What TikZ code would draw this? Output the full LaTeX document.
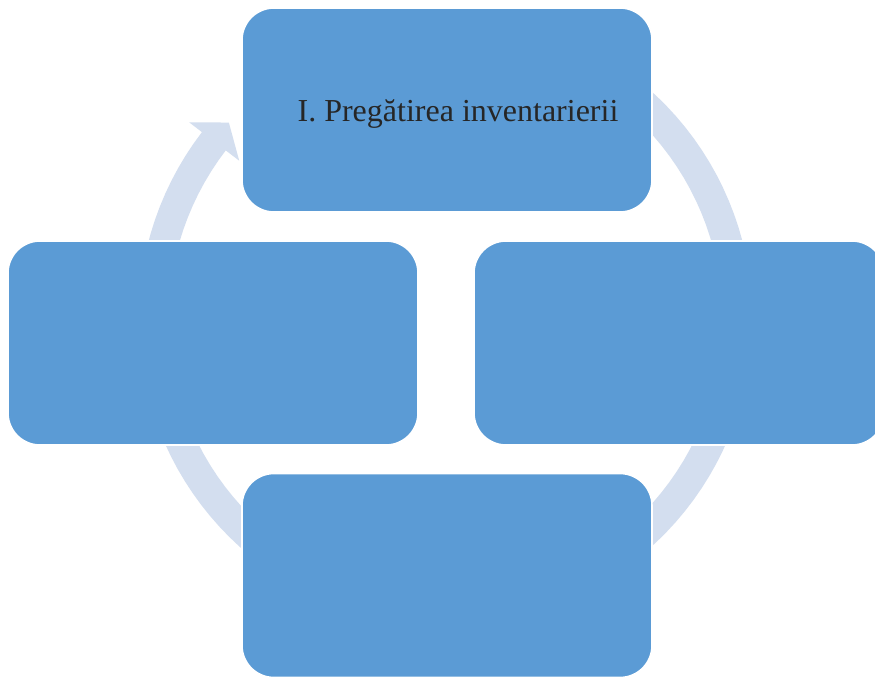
\documentclass[tikz,border=0pt]{standalone}
\usepackage{fontspec}
\setmainfont{Liberation Serif}
\definecolor{boxblue}{HTML}{5B9BD5}
\definecolor{bandblue}{HTML}{D3DEEF}
\definecolor{txtgray}{HTML}{262626}
\begin{document}
\begin{tikzpicture}[x=0.75pt,y=-0.75pt,
  cyclebox/.style={fill=boxblue,draw=white,line width=1.2pt,rounded corners=24pt,
    minimum width=307.5pt,minimum height=153pt,inner sep=0pt,outer sep=0pt},
  band/.style={fill=bandblue,draw=none}]
\useasboundingbox (0,0) rectangle (875,678);
\clip (0,0) rectangle (875,678);
\fill[white] (0,0) rectangle (875,678);
% circular arrow band
\begin{scope}[shift={(445.5,319)}]
\fill[band] plot[domain=-100:217.5,samples=120] (\x:307)
  -- (217.5:323) -- (222.2:292.5) -- (217.5:260) -- (217.5:277)
  -- plot[domain=217.5:-100,samples=120] (\x:277) -- cycle;
\end{scope}
% boxes
\node[cyclebox] (b1) at (447,110) {};
\node[cyclebox] (b2) at (679,343) {};
\node[cyclebox] (b3) at (447,575.5) {};
\node[cyclebox] (b4) at (213,343) {};
\node[font=\fontsize{24}{28}\selectfont,text=txtgray,inner sep=0pt,anchor=base] (t1) at (458,121) {I. Pregătirea inventarierii};
\end{tikzpicture}
\end{document}
